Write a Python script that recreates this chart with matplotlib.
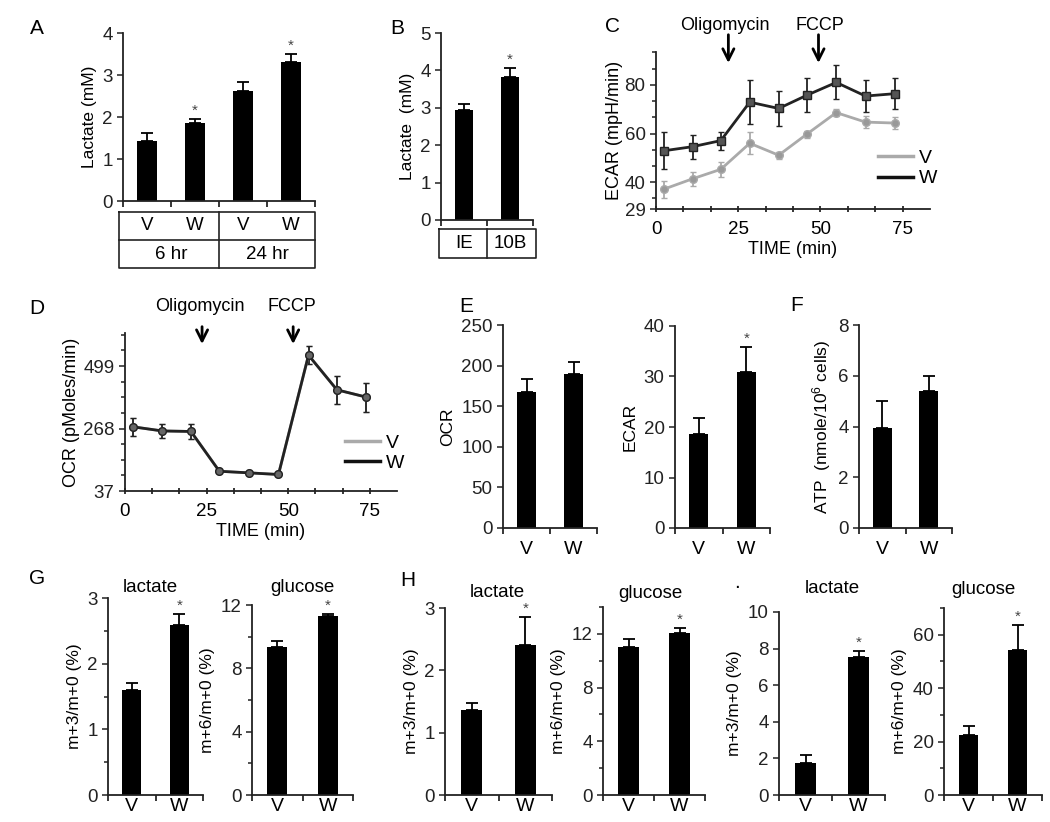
import numpy as np
import matplotlib.pyplot as plt
import matplotlib.transforms as mtransforms
from matplotlib.lines import Line2D
from matplotlib.ticker import MultipleLocator, FixedLocator

plt.rcParams['font.family'] = ['Liberation Sans', 'DejaVu Sans']
plt.rcParams['mathtext.fontset'] = 'custom'
plt.rcParams['mathtext.rm'] = 'Liberation Sans'

W_PX, H_PX = 1050, 822

# A: lactate, V/W at 6 hr and 24 hr
a_groups = ["V", "W", "V", "W"]
a_times = ["6 hr", "24 hr"]
a_vals = [1.44, 1.86, 2.61, 3.32]
a_errs = [0.19, 0.10, 0.22, 0.19]
a_star = [False, True, False, True]

# B: lactate IE / 10B
b_labels = ["IE", "10B"]
b_vals = [2.93, 3.82]
b_errs = [0.17, 0.25]
b_star = [False, True]

# C: ECAR time course
c_time = [2.3, 11.1, 19.7, 28.5, 37.3, 45.8, 54.8, 63.7, 72.8]
c_w = [52.9, 54.6, 57.1, 72.9, 70.3, 75.7, 81.0, 75.4, 76.4]
c_w_err = [7.6, 5.0, 3.7, 9.0, 7.0, 7.0, 7.0, 6.5, 6.4]
c_v = [37.1, 41.4, 45.3, 56.0, 51.1, 59.7, 68.6, 64.7, 64.3]
c_v_err = [3.5, 3.0, 3.0, 4.5, 1.5, 1.5, 1.5, 2.5, 2.5]

# D: OCR time course (V lies under W)
d_time = [2.6, 11.4, 20.2, 28.9, 38.1, 47.0, 56.2, 64.9, 73.9]
d_w = [274, 259, 257, 110, 104, 98, 539, 411, 384]
d_w_err = [32, 25, 27, 8, 6, 6, 34, 52, 54]
d_v = [274, 259, 257, 110, 104, 98, 539, 411, 384]
d_v_err = [32, 25, 27, 8, 6, 6, 34, 52, 54]

vw = ["V", "W"]
# E: OCR and ECAR
e_ocr = [168, 190]
e_ocr_err = [16, 15]
e_ecar = [18.6, 30.9]
e_ecar_err = [3.1, 5.0]
# F: ATP
f_atp = [3.95, 5.4]
f_atp_err = [1.05, 0.6]
# G
g_lac = [1.60, 2.59]
g_lac_err = [0.11, 0.17]
g_glu = [9.35, 11.3]
g_glu_err = [0.38, 0.12]
# H
h_lac = [1.36, 2.41]
h_lac_err = [0.12, 0.45]
h_glu = [11.0, 12.1]
h_glu_err = [0.6, 0.37]
# I
i_lac = [1.73, 7.55]
i_lac_err = [0.47, 0.32]
i_glu = [22.5, 54.1]
i_glu_err = [3.5, 9.6]

fig = plt.figure(figsize=(10.5, 8.22), dpi=100)


def px_axes(x0, y0, x1, y1):
    return fig.add_axes([x0 / W_PX, 1 - y1 / H_PX, (x1 - x0) / W_PX, (y1 - y0) / H_PX])


def fig_text(x, y, s, **kw):
    fig.text(x / W_PX, 1 - y / H_PX, s, ha='center', va='center', **kw)


def style(ax):
    for s in ['top', 'right']:
        ax.spines[s].set_visible(False)
    for s in ['left', 'bottom']:
        ax.spines[s].set_linewidth(1.3)
        ax.spines[s].set_color('#222222')
    ax.tick_params(axis='y', which='both', direction='out', width=1.1, labelsize=13.5, colors='#222222')
    ax.tick_params(axis='y', which='major', length=4)
    ax.tick_params(axis='y', which='minor', length=3)


def bar_plot(ax, vals, errs, stars, ylim, ymajor, yminor=None, labels=vw, ylabel=None, pad=9):
    x = np.arange(len(vals))
    ax.bar(x, vals, width=0.4, color='black', zorder=2)
    ax.errorbar(x, vals, yerr=[np.zeros(len(errs)), errs], fmt='none', ecolor='black',
                elinewidth=1.3, capsize=4, capthick=1.3, zorder=3)
    for xi, v, e, s in zip(x, vals, errs, stars):
        if s:
            ax.text(xi, v + e + 0.005 * (ylim[1] - ylim[0]), '*', ha='center', va='bottom',
                    fontsize=11, color='#444444')
    ax.set_xlim(-0.5, len(vals) - 0.5)
    ax.set_ylim(*ylim)
    ax.yaxis.set_major_locator(MultipleLocator(ymajor))
    if yminor:
        ax.yaxis.set_minor_locator(MultipleLocator(yminor))
    if labels:
        ax.set_xticks(x)
        ax.set_xticklabels(labels)
    else:
        ax.set_xticks([])
    ax.xaxis.set_minor_locator(FixedLocator(np.arange(-0.5, len(vals), 1)))
    style(ax)
    ax.tick_params(axis='x', which='major', length=0, labelsize=14, pad=pad)
    ax.tick_params(axis='x', which='minor', length=4, width=1.1, direction='out')
    if ylabel:
        ax.set_ylabel(ylabel, fontsize=12.5)


def table_line(ax, xs, ys):
    tr = mtransforms.blended_transform_factory(ax.transData, ax.transAxes)
    ax.add_line(Line2D(xs, ys, transform=tr, color='#222222', lw=1.2, clip_on=False))


def table_text(ax, x, y, s):
    tr = mtransforms.blended_transform_factory(ax.transData, ax.transAxes)
    ax.text(x, y, s, transform=tr, ha='center', va='center', fontsize=13.5)


# ---- A
axA = px_axes(123, 33, 315, 201)
bar_plot(axA, a_vals, a_errs, a_star, (0, 4), 1, labels=None, ylabel='Lactate (mM)')
l, r, t1, t2, t3 = -0.583, 3.5, -0.065, -0.232, -0.40
table_line(axA, [l, r, r, l, l], [t1, t1, t3, t3, t1])
table_line(axA, [l, r], [t2, t2])
table_line(axA, [1.5, 1.5], [t1, t3])
for i, g in enumerate(a_groups):
    table_text(axA, i, (t1 + t2) / 2, g)
for i, tm in enumerate(a_times):
    table_text(axA, 2 * i + 0.5, (t2 + t3) / 2, tm)

# ---- B
axB = px_axes(441, 33, 533, 220)
bar_plot(axB, b_vals, b_errs, b_star, (0, 5), 1, labels=None, ylabel='Lactate  (mM)')
l, r, t1, t3 = -0.54, 1.565, -0.048, -0.203
table_line(axB, [l, r, r, l, l], [t1, t1, t3, t3, t1])
table_line(axB, [0.5, 0.5], [t1, t3])
for i, s in enumerate(b_labels):
    table_text(axB, i, (t1 + t3) / 2, s)


def arrow(ax, x, s, x_text, y_text, y_start, y_tip):
    tr = mtransforms.blended_transform_factory(ax.transData, ax.transAxes)
    ax.annotate('', xy=(x, y_tip), xycoords=tr, xytext=(x, y_start), textcoords=tr,
                arrowprops=dict(arrowstyle='->', lw=2, color='black', mutation_scale=20,
                                shrinkA=0, shrinkB=0))
    ax.text(x_text, y_text, s, transform=tr, ha='center', va='center', fontsize=13)


def time_axes(ax):
    ax.set_xlim(0, 83.3)
    ax.xaxis.set_major_locator(FixedLocator([0, 25, 50, 75]))
    ax.xaxis.set_minor_locator(MultipleLocator(25 / 3))
    style(ax)
    ax.tick_params(axis='x', which='both', direction='inout', length=5, width=1.1,
                   labelsize=13.5, pad=6)
    ax.set_xlabel('TIME (min)', fontsize=13, labelpad=2)


# ---- C
axC = px_axes(656, 52, 930, 209)
axC.errorbar(c_time, c_v, yerr=c_v_err, color='#aaaaaa', lw=2, marker='o', ms=5.5,
             mfc='#999999', mec='#aaaaaa', capsize=2.5, elinewidth=1.3, label='V')
axC.errorbar(c_time, c_w, yerr=c_w_err, color='#222222', lw=2, marker='s', ms=5.5,
             mfc='#555555', mec='#222222', capsize=2.5, elinewidth=1.3, label='W')
axC.set_ylim(29, 93.5)
axC.yaxis.set_major_locator(FixedLocator([29, 40, 60, 80]))
axC.yaxis.set_minor_locator(MultipleLocator(20 / 3))
time_axes(axC)
axC.set_ylabel('ECAR (mpH/min)', fontsize=13, labelpad=1)
arrow(axC, 22, 'Oligomycin', 21, 1.17, 1.11, 0.93)
arrow(axC, 49.4, 'FCCP', 49.7, 1.17, 1.11, 0.93)
hC = [Line2D([], [], color='#aaaaaa', lw=2.5), Line2D([], [], color='#111111', lw=2.5)]
axC.legend(hC, ['V', 'W'], loc='upper left', bbox_to_anchor=(0.81, 0.38), frameon=False,
           borderpad=0, borderaxespad=0, handlelength=1.8, handletextpad=0.3,
           labelspacing=0.15, fontsize=14)

# ---- D
axD = px_axes(125, 333, 397, 491)
axD.errorbar(d_time, d_v, yerr=d_v_err, color='#aaaaaa', lw=2, marker='o', ms=5.5,
             mfc='#999999', mec='#aaaaaa', capsize=2.5, elinewidth=1.3, label='V')
axD.errorbar(d_time, d_w, yerr=d_w_err, color='#222222', lw=2, marker='o', ms=5.5,
             mfc='#666666', mec='#222222', capsize=2.5, elinewidth=1.3, label='W')
axD.set_ylim(37, 621)
axD.yaxis.set_major_locator(FixedLocator([37, 268, 499]))
axD.yaxis.set_minor_locator(MultipleLocator(231 / 4, offset=37))
time_axes(axD)
axD.set_ylabel('OCR (pMoles/min)', fontsize=13, labelpad=2)
arrow(axD, 23.6, 'Oligomycin', 23, 1.165, 1.04, 0.93)
arrow(axD, 51.5, 'FCCP', 51.2, 1.165, 1.04, 0.93)
axD.legend(hC, ['V', 'W'], loc='upper left', bbox_to_anchor=(0.81, 0.36), frameon=False,
           borderpad=0, borderaxespad=0, handlelength=1.8, handletextpad=0.3,
           labelspacing=0.15, fontsize=14)

# ---- E
axE1 = px_axes(503, 325, 597, 528)
bar_plot(axE1, e_ocr, e_ocr_err, [False, False], (0, 250), 50, ylabel='OCR')
axE2 = px_axes(675, 326, 770, 528)
bar_plot(axE2, e_ecar, e_ecar_err, [False, True], (0, 40), 10, ylabel='ECAR')

# ---- F
axF = px_axes(859, 325, 952, 528)
bar_plot(axF, f_atp, f_atp_err, [False, False], (0, 8), 2,
         ylabel=r'ATP  (nmole/10$\mathregular{^6}$ cells)')

# ---- G
axG1 = px_axes(108, 598, 203, 795)
bar_plot(axG1, g_lac, g_lac_err, [False, True], (0, 3), 1, 0.5, ylabel='m+3/m+0 (%)', pad=2)
axG2 = px_axes(252, 605, 353, 795)
bar_plot(axG2, g_glu, g_glu_err, [False, True], (0, 12), 4, 2, ylabel='m+6/m+0 (%)', pad=2)

# ---- H
axH1 = px_axes(445, 608, 552, 795)
bar_plot(axH1, h_lac, h_lac_err, [False, True], (0, 3), 1, ylabel='m+3/m+0 (%)', pad=2)
axH2 = px_axes(603, 607, 705, 795)
bar_plot(axH2, h_glu, h_glu_err, [False, True], (0, 14), 4, 2, ylabel='m+6/m+0 (%)', pad=2)
axH2.yaxis.set_major_locator(FixedLocator([0, 4, 8, 12]))

# ---- I
axI1 = px_axes(779, 612, 885, 795)
bar_plot(axI1, i_lac, i_lac_err, [False, True], (0, 10), 2, ylabel='m+3/m+0 (%)', pad=2)
axI2 = px_axes(944, 608, 1042, 795)
bar_plot(axI2, i_glu, i_glu_err, [False, True], (0, 70), 20, 10, ylabel='m+6/m+0 (%)', pad=2)
axI2.yaxis.set_major_locator(FixedLocator([0, 20, 40, 60]))

# titles above the isotope panels
for x, y, s in [(150, 587, 'lactate'), (302, 587, 'glucose'),
                (497, 592, 'lactate'), (650, 593, 'glucose'),
                (832, 588, 'lactate'), (983, 589, 'glucose')]:
    fig_text(x, y, s, fontsize=13.5)

# panel letters
for x, y, s in [(37, 28, 'A'), (397, 28, 'B'), (612, 27, 'C'), (37, 308, 'D'),
                (466, 306, 'E'), (797, 305, 'F'), (37, 578, 'G'), (408, 580, 'H'),
                (737, 583, '.')]:
    fig_text(x, y, s, fontsize=15)

fig.savefig('out.png', dpi=100)
